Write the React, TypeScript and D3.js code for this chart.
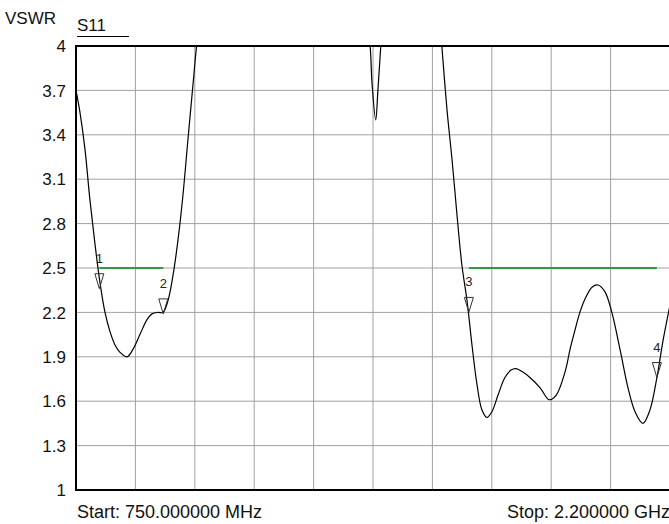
import React, { useEffect, useRef } from "react";
import * as d3 from "d3";

// S11 sweep, frequency in MHz and VSWR (values above 4 are clipped off the plot)
const freqs = [
  750, 759.8, 772, 784, 796.4, 808.6, 820.8, 833, 845.2, 857.4, 874.5, 889, 906, 923,
  935.5, 950, 962.4, 974.6, 986.8, 999, 1011, 1023, 1035.6, 1045, 1065, 1199, 1370,
  1455, 1468, 1472.6, 1481.6, 1487, 1494, 1504, 1590, 1634, 1643, 1655.6, 1668, 1680,
  1692, 1704.5, 1716.6, 1729, 1741, 1753, 1765.5, 1780, 1797, 1812, 1824, 1839, 1858,
  1883, 1905, 1922, 1944, 1956, 1968, 1980, 1992.5, 2009.6, 2024, 2041, 2058, 2078,
  2097.5, 2114.5, 2134, 2151, 2168, 2183, 2200,
];
const vswr = [
  3.7, 3.55, 3.3, 2.96, 2.66, 2.4, 2.2, 2.07, 1.98, 1.93, 1.9, 1.95, 2.05, 2.15,
  2.19, 2.2, 2.2, 2.28, 2.45, 2.69, 2.99, 3.36, 3.74, 4.02, 4.5, 5.0, 4.9,
  4.3, 4.0, 3.75, 3.5, 3.7, 4.0, 4.4, 5.0, 4.3, 4.0, 3.57, 3.23, 2.86,
  2.52, 2.28, 1.98, 1.71, 1.54, 1.49, 1.53, 1.64, 1.76, 1.81, 1.82, 1.8, 1.76,
  1.69, 1.61, 1.64, 1.8, 1.95, 2.08, 2.2, 2.29, 2.37, 2.385, 2.34, 2.2, 1.95,
  1.69, 1.53, 1.45, 1.54, 1.76, 2.01, 2.25,
];

const yTicks = [1, 1.3, 1.6, 1.9, 2.2, 2.5, 2.8, 3.1, 3.4, 3.7, 4];
const xDivisions = 10;

const markerLabels = ["1", "2", "3", "4"];
const markerFreqs = [807, 963, 1709, 2168];
const markerValues = [2.36, 2.19, 2.2, 1.76];

// limit lines (green)
const limitStarts = [807, 1709];
const limitEnds = [963, 2168];
const limitValue = 2.5;

const startLabel = "Start: 750.000000 MHz";
const stopLabel = "Stop: 2.200000 GHz";

const W = 669;
const H = 524;
const left = 76;
const right = 670;
const top = 46;
const bottom = 490;
const font = "'Liberation Sans', Arial, sans-serif";

const App = () => {
  const ref = useRef<SVGGElement>(null);

  useEffect(() => {
    const x = d3.scaleLinear().domain([750, 2200]).range([left, right]);
    const y = d3.scaleLinear().domain([1, 4]).range([bottom, top]);
    const g = d3.select(ref.current);
    g.selectAll("*").remove();

    g.append("clipPath")
      .attr("id", "plot-clip")
      .append("rect")
      .attr("x", left)
      .attr("y", top)
      .attr("width", right - left)
      .attr("height", bottom - top);

    // grid
    const xGrid = d3.range(1, xDivisions).map(i => 750 + (i * 1450) / xDivisions);
    g.selectAll("line.vgrid")
      .data(xGrid)
      .enter()
      .append("line")
      .attr("class", "vgrid")
      .attr("x1", d => x(d))
      .attr("x2", d => x(d))
      .attr("y1", top)
      .attr("y2", bottom)
      .attr("stroke", "#a0a0a0")
      .attr("stroke-width", 1);

    g.selectAll("line.hgrid")
      .data(yTicks.slice(1, -1))
      .enter()
      .append("line")
      .attr("class", "hgrid")
      .attr("x1", left)
      .attr("x2", right)
      .attr("y1", d => y(d))
      .attr("y2", d => y(d))
      .attr("stroke", "#a0a0a0")
      .attr("stroke-width", 1);

    // tick labels
    g.selectAll("text.ytick")
      .data(yTicks)
      .enter()
      .append("text")
      .attr("class", "ytick")
      .attr("x", 66)
      .attr("y", d => y(d))
      .attr("dy", "0.36em")
      .attr("text-anchor", "end")
      .style("font-family", font)
      .style("font-size", "17px")
      .style("fill", "#111")
      .text(d => String(d));

    // limit lines
    g.selectAll("line.limit")
      .data(limitStarts)
      .enter()
      .append("line")
      .attr("class", "limit")
      .attr("x1", d => x(d))
      .attr("x2", (d, i) => x(limitEnds[i]))
      .attr("y1", y(limitValue))
      .attr("y2", y(limitValue))
      .attr("stroke", "#2f9a3f")
      .attr("stroke-width", 2);

    // trace
    const line = d3
      .line<number>()
      .x((d, i) => x(freqs[i]))
      .y(d => y(d))
      .curve(d3.curveCatmullRom);
    g.append("path")
      .attr("d", line(vswr))
      .attr("clip-path", "url(#plot-clip)")
      .attr("fill", "none")
      .attr("stroke", "#000")
      .attr("stroke-width", 1.2);

    // markers
    const mk = g
      .selectAll("g.marker")
      .data(markerFreqs)
      .enter()
      .append("g")
      .attr("class", "marker")
      .attr("transform", (d, i) => `translate(${x(d)},${y(markerValues[i])})`);
    mk.append("path")
      .attr("d", "M0,0 L-4.5,-15 L4.5,-15 Z")
      .attr("fill", "none")
      .attr("stroke", "#333")
      .attr("stroke-width", 1);
    mk.append("text")
      .attr("x", 0)
      .attr("y", -26)
      .attr("text-anchor", "middle")
      .style("font-family", font)
      .style("font-size", "13px")
      .style("fill", "#222")
      .text((d, i) => markerLabels[i]);

    // frame
    g.append("path")
      .attr("d", `M${right},${top} L${left},${top} L${left},${bottom} L${right},${bottom}`)
      .attr("fill", "none")
      .attr("stroke", "#000")
      .attr("stroke-width", 2);

    g.append("text")
      .attr("x", 5)
      .attr("y", 24)
      .style("font-family", font)
      .style("font-size", "17px")
      .style("fill", "#111")
      .text("VSWR");
    g.append("text")
      .attr("x", 77)
      .attr("y", 31)
      .style("font-family", font)
      .style("font-size", "17px")
      .style("fill", "#111")
      .text("S11");
    g.append("line")
      .attr("x1", 77)
      .attr("x2", 129)
      .attr("y1", 36.5)
      .attr("y2", 36.5)
      .attr("stroke", "#000")
      .attr("stroke-width", 1);

    g.append("text")
      .attr("x", 77)
      .attr("y", 518)
      .style("font-family", font)
      .style("font-size", "18px")
      .style("fill", "#111")
      .text(startLabel);
    g.append("text")
      .attr("x", 670)
      .attr("y", 518)
      .attr("text-anchor", "end")
      .style("font-family", font)
      .style("font-size", "18px")
      .style("fill", "#111")
      .text(stopLabel);
  }, []);

  return (
    <svg
      width={W}
      height={H}
      style={{ position: "absolute", left: 0, top: 0, background: "#fff" }}
    >
      <g ref={ref} />
    </svg>
  );
};

export default App;
